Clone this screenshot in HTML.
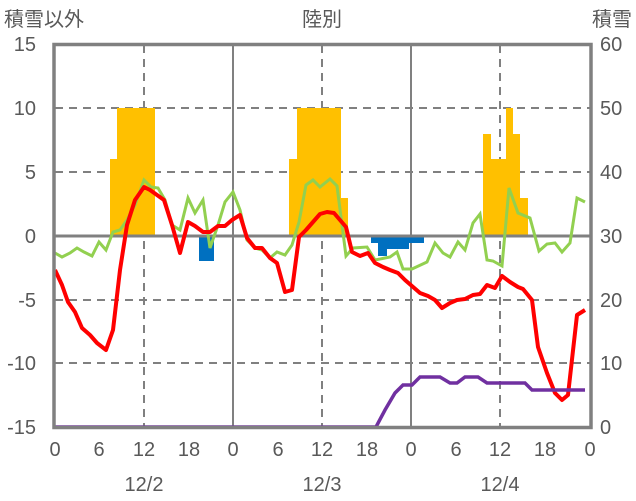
<!DOCTYPE html>
<html><head><meta charset="utf-8"><style>body{margin:0;background:#fff}svg{display:block}text{font-family:"Liberation Sans","Noto Sans CJK JP",sans-serif;fill:#595959;font-size:20px}</style></head><body>
<svg width="636" height="501" viewBox="0 0 636 501">
<text x="4" y="26">積雪以外</text><text x="322" y="26" text-anchor="middle">陸別</text><text x="632" y="26" text-anchor="end">積雪</text>
<g stroke="#808080" stroke-width="2" stroke-dasharray="8,6">
<line x1="55" y1="108" x2="590" y2="108"/><line x1="55" y1="172" x2="590" y2="172"/><line x1="55" y1="300" x2="590" y2="300"/><line x1="55" y1="363" x2="590" y2="363"/>
<line x1="144" y1="45" x2="144" y2="427"/><line x1="322" y1="45" x2="322" y2="427"/><line x1="500" y1="45" x2="500" y2="427"/>
</g>
<g stroke="#808080" stroke-width="2"><line x1="233" y1="45" x2="233" y2="427"/><line x1="411" y1="45" x2="411" y2="427"/></g>
<g fill="#FFC000">
<rect x="110" y="159" width="8" height="77"/><rect x="117" y="108" width="38" height="128"/>
<rect x="289" y="159" width="8" height="77"/><rect x="297" y="108" width="44" height="128"/><rect x="341" y="198" width="7" height="38"/>
<rect x="483" y="134" width="8" height="102"/><rect x="491" y="159" width="15" height="77"/><rect x="506" y="108" width="7" height="128"/><rect x="513" y="134" width="7" height="102"/><rect x="520" y="198" width="8" height="38"/>
</g>
<g fill="#0070C0"><rect x="199" y="236" width="15" height="25"/><rect x="371" y="236" width="53" height="7"/><rect x="378" y="236" width="31" height="13"/><rect x="378" y="236" width="9" height="20"/></g>
<line x1="55" y1="236" x2="590" y2="236" stroke="#808080" stroke-width="3"/>
<polyline fill="none" stroke="#92D050" stroke-width="3" points="55,253 62,257 70,253 77,248 84,252 92,256 99,242 106,250 113,232 120,230 127,220 135,205 144,180 151,187 158,188 165,200 172,225 180,230 188,198 195,213 203,200 210,248 218,225 225,202 233,192 240,210 247,240 255,248 262,250 270,258 277,252 285,255 292,245 299,222 306,185 313,180 320,187 330,179 337,186 346,256 353,248 367,247 375,260 390,257 397,252 403,269 412,269 427,262 435,243 443,253 450,257 458,242 465,250 473,223 480,214 487,260 493,261 502,266 509,188 518,213 530,218 539,251 547,244 555,243 562,252 570,243 577,198 585,202"/>
<polyline fill="none" stroke="#FF0000" stroke-width="4" stroke-linejoin="round" points="55,270 62,285 68,302 75,312 82,328 90,335 97,343 106,350 113,330 120,270 127,225 135,200 144,187 150,190 157,195 164,200 172,225 180,253 188,222 195,226 203,232 210,232 218,226 225,226 232,220 240,215 247,238 255,248 262,248 270,258 277,263 285,292 292,290 299,237 306,230 313,222 320,214 327,212 334,213 340,220 346,227 352,252 360,256 368,253 375,263 383,267 390,270 398,273 405,280 420,293 428,296 435,300 442,308 450,303 457,300 465,299 473,295 480,294 487,285 495,288 502,276 510,282 518,287 523,289 532,300 538,347 547,373 555,393 562,400 568,395 577,315 585,310"/>
<polyline fill="none" stroke="#7030A0" stroke-width="3.5" points="55,427 376,427 385,410 395,393 403,385 412,385 420,377 440,377 450,383 457,383 465,377 478,377 487,383 525,383 532,390 585,390"/>
<rect x="54" y="44.5" width="537" height="383" fill="none" stroke="#808080" stroke-width="3.5"/>
<g text-anchor="end"><text x="36" y="51">15</text><text x="36" y="115">10</text><text x="36" y="179">5</text><text x="36" y="243">0</text><text x="36" y="307">-5</text><text x="36" y="370">-10</text><text x="36" y="434">-15</text></g>
<g><text x="600" y="51">60</text><text x="600" y="115">50</text><text x="600" y="179">40</text><text x="600" y="243">30</text><text x="600" y="307">20</text><text x="600" y="370">10</text><text x="600" y="434">0</text></g>
<g text-anchor="middle"><text x="55" y="456">0</text><text x="99" y="456">6</text><text x="144" y="456">12</text><text x="189" y="456">18</text><text x="233" y="456">0</text><text x="278" y="456">6</text><text x="322" y="456">12</text><text x="367" y="456">18</text><text x="411" y="456">0</text><text x="456" y="456">6</text><text x="500" y="456">12</text><text x="545" y="456">18</text><text x="590" y="456">0</text>
<text x="144" y="491">12/2</text><text x="322" y="491">12/3</text><text x="500" y="491">12/4</text></g>
</svg></body></html>
